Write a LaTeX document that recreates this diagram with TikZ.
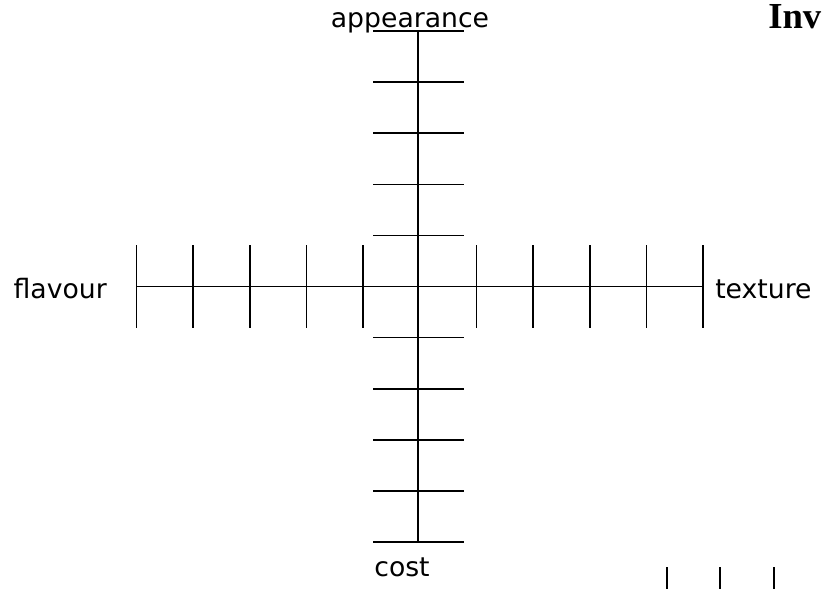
\documentclass[tikz,border=0pt]{standalone}
\usepackage{fontspec}
\setmainfont{DejaVu Sans}
\newfontfamily\titlefont{Liberation Serif}
\usetikzlibrary{positioning}

\begin{document}
\begin{tikzpicture}[
    x=0.75pt,
    y=-0.75pt,
    axisline/.style={
        line width=1.2pt,
        black
    },
    tickline/.style={
        line width=1.2pt,
        black
    },
    axislabel/.style={
        inner sep=0pt,
        font=\fontsize{20pt}{24pt}\selectfont
    },
    titlelabel/.style={
        inner sep=0pt,
        font=\titlefont\bfseries\fontsize{27.5pt}{32pt}\selectfont
    }
]

\clip (0,0) rectangle (828,589);

% ---------------- Axes ----------------
\coordinate (appTop) at (418,31);
\coordinate (costEnd) at (418,542);
\coordinate (flavEnd) at (136.5,286.5);
\coordinate (textEnd) at (703,286.5);

\draw[axisline] (appTop) -- (costEnd);
\draw[axisline] (flavEnd) -- (textEnd);

% ---------------- Ticks ----------------
\foreach \k in {0,1,2,3,4,6,7,8,9,10}
    \draw[tickline] (136.5+\k*56.65,245) -- (136.5+\k*56.65,328);

\foreach \k in {0,1,2,3,4,6,7,8,9,10}
    \draw[tickline] (373,31+\k*51.1) -- (464,31+\k*51.1);

% ---------------- Labels ----------------
\node[axislabel, anchor=base] (appearance) at (410,27) {appearance};
\node[axislabel, anchor=base east] (flavour) at (107,298) {flavour};
\node[axislabel, anchor=base west] (texture) at (715,298) {texture};
\node[axislabel, anchor=base] (cost) at (402,576) {cost};

% ---------------- Title (cut off) ----------------
\node[titlelabel, anchor=base west] (title) at (768,28) {Inv};

% ---------------- Next chart (cut off) ----------------
\foreach \x in {667,720,774}
    \draw[tickline] (\x,567) -- (\x,589);

\end{tikzpicture}
\end{document}
